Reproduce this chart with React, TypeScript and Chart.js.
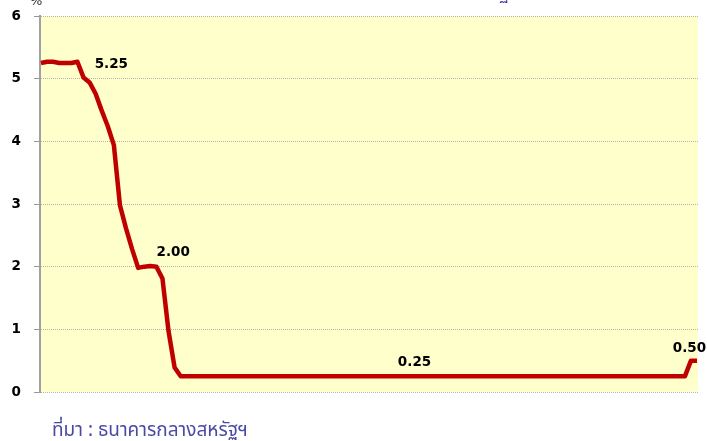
import React, { useEffect, useRef } from "react";
import { Chart, registerables } from "chart.js";

Chart.register(...registerables);

// ---- data ----
const YEARS = [2007, 2008, 2009, 2010, 2011, 2012, 2013, 2014, 2015, 2016];
const MONTHS = ["ม.ค.", "ก.พ.", "มี.ค.", "เม.ย.", "พ.ค.", "มิ.ย.", "ก.ค.", "ส.ค.", "ก.ย.", "ต.ค.", "พ.ย.", "ธ.ค."];

const RATES_2007 = [5.25, 5.27, 5.27, 5.25, 5.25, 5.25, 5.27, 5.02, 4.94, 4.76, 4.49, 4.24];
const RATES_2008 = [3.94, 2.98, 2.61, 2.28, 1.98, 2.0, 2.01, 2.0, 1.81, 0.97, 0.39, 0.25];
const RATES_2009 = [0.25, 0.25, 0.25, 0.25, 0.25, 0.25, 0.25, 0.25, 0.25, 0.25, 0.25, 0.25];
const RATES_2010 = [0.25, 0.25, 0.25, 0.25, 0.25, 0.25, 0.25, 0.25, 0.25, 0.25, 0.25, 0.25];
const RATES_2011 = [0.25, 0.25, 0.25, 0.25, 0.25, 0.25, 0.25, 0.25, 0.25, 0.25, 0.25, 0.25];
const RATES_2012 = [0.25, 0.25, 0.25, 0.25, 0.25, 0.25, 0.25, 0.25, 0.25, 0.25, 0.25, 0.25];
const RATES_2013 = [0.25, 0.25, 0.25, 0.25, 0.25, 0.25, 0.25, 0.25, 0.25, 0.25, 0.25, 0.25];
const RATES_2014 = [0.25, 0.25, 0.25, 0.25, 0.25, 0.25, 0.25, 0.25, 0.25, 0.25, 0.25, 0.25];
const RATES_2015 = [0.25, 0.25, 0.25, 0.25, 0.25, 0.25, 0.25, 0.25, 0.25, 0.25, 0.25, 0.5];
const RATES_2016 = [0.5];

const Y_MIN = 0;
const Y_MAX = 6;
const Y_STEP = 1;

// indexes of the points that carry a value label
const LABEL_INDEX = [5, 17, 61, 107];

const Y_UNIT = "%";
const TITLE_TEXT = "อัตราดอกเบี้ยนโยบายของธนาคารกลางสหรัฐฯ";
const SOURCE_TEXT = "ที่มา : ธนาคารกลางสหรัฐฯ";

// ---- derived tables ----
const RATES = [
  ...RATES_2007, ...RATES_2008, ...RATES_2009, ...RATES_2010, ...RATES_2011,
  ...RATES_2012, ...RATES_2013, ...RATES_2014, ...RATES_2015, ...RATES_2016,
];
const LABELS: string[] = [];
YEARS.forEach((y) => MONTHS.forEach((m) => LABELS.push(`${m} ${y}`)));
const POINTS = RATES.map((v, i) => ({ x: i, y: v }));

// label pixel offsets (style)
const LABEL_DX = [40, 29, 3, -1.5];
const LABEL_DY = [1, -14, -14, -12];

const THAI_FONT = "Tahoma, 'Noto Sans Thai', 'Noto Sans', 'DejaVu Sans', sans-serif";

const bgPlugin = {
  id: "plotBg",
  beforeDraw(chart: any) {
    const { ctx, chartArea } = chart;
    ctx.save();
    ctx.fillStyle = "#FFFFCC";
    ctx.fillRect(chartArea.left, chartArea.top, chartArea.right - chartArea.left, chartArea.bottom - chartArea.top);
    ctx.restore();
  },
};

const textPlugin = {
  id: "texts",
  afterDraw(chart: any) {
    const { ctx, scales } = chart;
    const xs = scales.x;
    const ys = scales.y;
    ctx.save();
    // value labels
    ctx.font = "bold 13.5px 'DejaVu Sans', Verdana, sans-serif";
    ctx.fillStyle = "#000000";
    ctx.textAlign = "center";
    ctx.textBaseline = "middle";
    LABEL_INDEX.forEach((idx, k) => {
      const px = xs.getPixelForValue(idx) + LABEL_DX[k];
      const py = ys.getPixelForValue(RATES[idx]) + LABEL_DY[k];
      ctx.fillText(RATES[idx].toFixed(2), px, py);
    });
    // unit
    ctx.font = "13px 'DejaVu Sans', sans-serif";
    ctx.textAlign = "left";
    ctx.textBaseline = "alphabetic";
    ctx.fillStyle = "#333333";
    ctx.fillText(Y_UNIT, 30, 5);
    // title (cut off at the top)
    ctx.font = `18px ${THAI_FONT}`;
    ctx.fillStyle = "#3B3B9E";
    const cut = TITLE_TEXT.indexOf("ฐ");
    const pre = ctx.measureText(TITLE_TEXT.slice(0, cut)).width;
    ctx.fillText(TITLE_TEXT, 499 - pre, -1);
    // source
    ctx.font = `19px ${THAI_FONT}`;
    ctx.fillStyle = "#4A4AA6";
    ctx.fillText(SOURCE_TEXT, 52, 436);
    ctx.restore();
  },
};

export default function App() {
  const ref = useRef<HTMLCanvasElement | null>(null);

  useEffect(() => {
    if (!ref.current) return;
    const chart = new Chart(ref.current, {
      type: "line",
      data: {
        labels: LABELS,
        datasets: [
          {
            label: "Fed funds rate",
            data: POINTS,
            borderColor: "#C00000",
            backgroundColor: "#C00000",
            borderWidth: 4.5,
            pointRadius: 0,
            tension: 0,
            fill: false,
            borderJoinStyle: "round",
          },
        ],
      },
      options: {
        animation: false,
        responsive: false,
        devicePixelRatio: 1,
        layout: { padding: { top: 16, right: 9, bottom: 49, left: 0 } },
        plugins: {
          legend: { display: false },
          tooltip: { enabled: false },
          title: { display: false },
        },
        scales: {
          x: {
            type: "linear",
            display: false,
            min: -0.16,
            max: RATES.length - 1 + 0.16,
          },
          y: {
            min: Y_MIN,
            max: Y_MAX,
            afterFit(scale: any) {
              scale.width = 40;
              scale.paddingTop = 0;
              scale.paddingBottom = 0;
            },
            ticks: {
              stepSize: Y_STEP,
              padding: 13,
              color: "#000000",
              font: { family: "'DejaVu Sans', Verdana, sans-serif", size: 13.5, weight: "bold" },
            },
            grid: {
              color: "#b4b4b4",
              lineWidth: 1,
              drawTicks: true,
              tickLength: 6,
              tickColor: "#999999",
              tickWidth: 1,
            },
            border: {
              display: true,
              color: "#a0a0a0",
              width: 2,
              dash: [1, 1],
            },
          },
        },
      },
      plugins: [bgPlugin, textPlugin],
    });
    return () => chart.destroy();
  }, []);

  return (
    <div style={{ position: "fixed", left: 0, top: 0, width: 707, height: 441, background: "#ffffff" }}>
      <canvas ref={ref} width={707} height={441} />
    </div>
  );
}
